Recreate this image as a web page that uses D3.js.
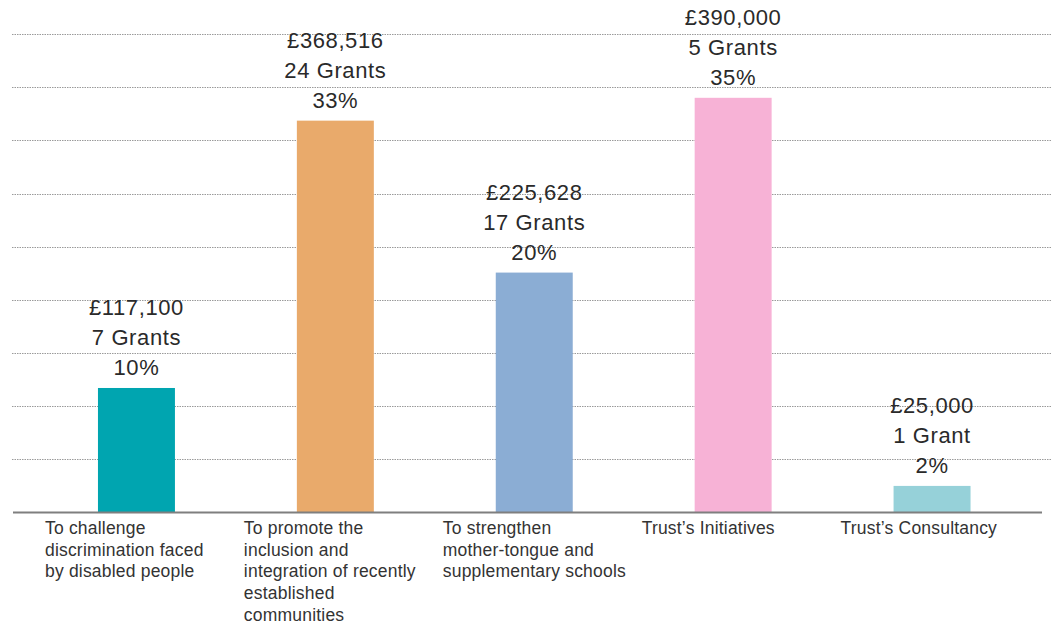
<!DOCTYPE html>
<html>
<head>
<meta charset="utf-8">
<script src="https://cdn.jsdelivr.net/npm/d3@7"></script>
<style>
  html, body { margin: 0; padding: 0; background: #fff; }
  svg { display: block; }
  text { font-family: "Liberation Sans", Arial, Helvetica, sans-serif; }
</style>
</head>
<body>
<svg id="chart" width="1051" height="626"></svg>
<script>
const categories = [
  "To challenge|discrimination faced|by disabled people",
  "To promote the|inclusion and|integration of recently|established|communities",
  "To strengthen|mother-tongue and|supplementary schools",
  "Trust\u2019s Initiatives",
  "Trust\u2019s Consultancy"
];
const amounts = [117100, 368516, 225628, 390000, 25000];
const grantCounts = [7, 24, 17, 5, 1];
const percents = [10, 33, 20, 35, 2];
const colors = ["#00a5b0", "#e9aa6b", "#8badd4", "#f7b2d6", "#96d1d9"];
const gridTicks = [50000, 100000, 150000, 200000, 250000, 300000, 350000, 400000, 450000];

const data = categories.map((c, i) => ({
  cat: c, amount: amounts[i], grants: grantCounts[i], pct: percents[i], color: colors[i]
}));

const svg = d3.select("#chart");
const x = d3.scaleBand().domain(categories).range([37, 1031.5]).paddingInner(0.613).paddingOuter(0.3065);
const y = d3.scaleLinear().domain([0, 450000]).range([512.5, 34]);

// gridlines
svg.append("g").selectAll("line").data(gridTicks).join("line")
  .attr("x1", 12).attr("x2", 1051)
  .attr("y1", d => Math.round(y(d)) + 0.5).attr("y2", d => Math.round(y(d)) + 0.5)
  .attr("stroke", "#9a9a9a").attr("stroke-width", 1).attr("stroke-dasharray", "1.5,1");

// bars
svg.append("g").selectAll("rect").data(data).join("rect")
  .attr("x", d => x(d.cat)).attr("width", x.bandwidth())
  .attr("y", d => y(d.amount)).attr("height", d => y(0) - y(d.amount))
  .attr("fill", d => d.color);

// baseline
svg.append("line").attr("x1", 13).attr("x2", 1042)
  .attr("y1", y(0)).attr("y2", y(0))
  .attr("stroke", "#7f7f7f").attr("stroke-width", 2);

// value labels
const fmt = d3.format(",");
const vl = svg.append("g").selectAll("text").data(data).join("text")
  .attr("text-anchor", "middle").attr("fill", "#2a2a2a").attr("font-size", 22)
  .attr("letter-spacing", 0.6);
vl.each(function(d) {
  const t = d3.select(this);
  const cx = x(d.cat) + x.bandwidth() / 2;
  const top = y(d.amount);
  const lines = ["\u00a3" + fmt(d.amount), d.grants + (d.grants === 1 ? " Grant" : " Grants"), d.pct + "%"];
  lines.forEach((l, k) => {
    t.append("tspan").attr("x", cx).attr("y", top - 13 - (2 - k) * 29.8).text(l);
  });
});

// category labels
const cl = svg.append("g").selectAll("text").data(data).join("text")
  .attr("fill", "#333").attr("font-size", 17.5).attr("letter-spacing", 0.2);
cl.each(function(d) {
  const t = d3.select(this);
  const lx = x(d.cat) - 53;
  d.cat.split("|").forEach((l, k) => {
    t.append("tspan").attr("x", lx).attr("y", 534 + k * 21.7).text(l);
  });
});
</script>
</body>
</html>
